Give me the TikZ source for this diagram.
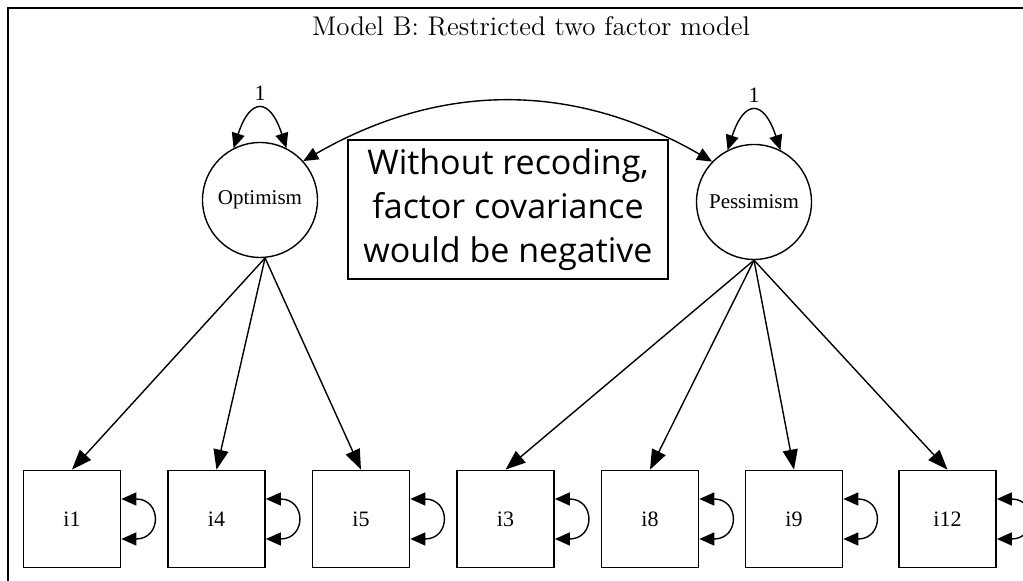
\documentclass[tikz,border=0pt]{standalone}
\usepackage{fontspec}
\newfontfamily\itemfont{Liberation Serif}
\newfontfamily\notefont{Open Sans}
\usetikzlibrary{arrows.meta}

\begin{document}
\begin{tikzpicture}[x=0.5pt, y=0.5pt,
        latent/.style={draw, circle, line width=0.7pt, minimum size=57.5pt, inner sep=0pt, font=\itemfont\fontsize{10.5}{12}\selectfont},
        manifest/.style={draw, rectangle, line width=0.85pt, minimum size=48.5pt, inner sep=0pt, font=\itemfont\fontsize{11}{12}\selectfont},
        load/.style={line width=0.7pt, -{Triangle[length=10pt, width=7.5pt]}},
        vararrow/.style={line width=0.7pt, {Triangle[length=7.5pt, width=6.5pt]}-{Triangle[length=7.5pt, width=6.5pt]}},
        fixlabel/.style={font=\itemfont\fontsize{11}{12}\selectfont, inner sep=4.5pt}]
        \useasboundingbox (0,0) rectangle (1023,581);
        \draw[black, line width=1pt] (8,-20) -- (8,573) -- (1040,573);

        \node[anchor=base] (title) at (531,545) {\fontsize{13.5}{16}\selectfont Model B: Restricted two factor model};

        \node[latent] (opt) at (260,381) {Optimism};
        \node[latent] (pes) at (754,379) {Pessimism};

        \node[draw, line width=0.6pt, minimum width=160pt, minimum height=69.5pt, inner sep=0pt, align=center,
              font=\notefont\fontsize{17}{22}\selectfont] (note) at (508,371.5)
              {Without recoding,\\factor covariance\\would be negative};

        \foreach \name/\x in {i1/72, i4/216.5, i5/361, i3/505.5, i8/650, i9/794, i12/947.5}
            \node[manifest] (\name) at (\x,62) {\name};

        \foreach \name in {i1, i4, i5}
            \draw[load] (opt.-85) -- (\name.north);
        \foreach \name in {i3, i8, i9, i12}
            \draw[load] (pes.-90) -- (\name.north);

        \foreach \name in {i1, i4, i5, i3, i8, i9, i12}
            \draw[vararrow] ([yshift=10pt]\name.east) to[out=0, in=0, looseness=2.6] ([yshift=-10pt]\name.east);

        \draw[vararrow] (opt.117) to[out=72, in=108, looseness=2.6] node[above, fixlabel] (optvar) {1} (opt.63);
        \draw[vararrow] (pes.117) to[out=72, in=108, looseness=2.6] node[above, fixlabel] (pesvar) {1} (pes.63);

        \draw[vararrow] (opt.42) to[bend left=30] (pes.136);
\end{tikzpicture}
\end{document}
